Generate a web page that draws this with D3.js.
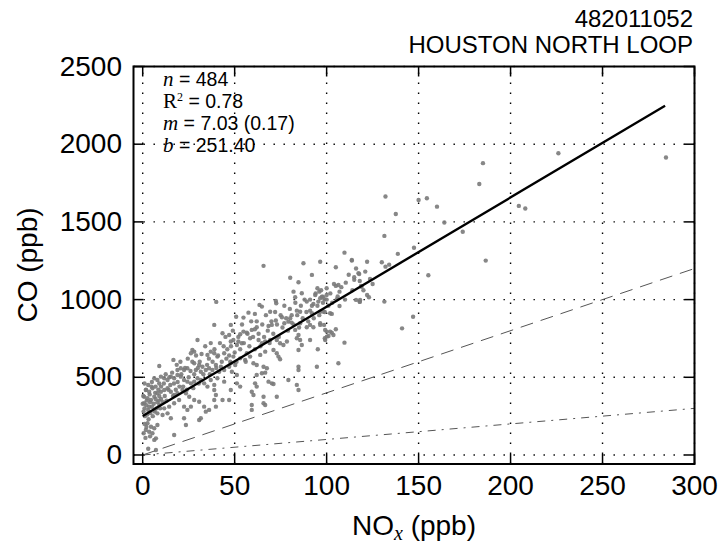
<!DOCTYPE html>
<html>
<head>
<meta charset="utf-8">
<script src="https://cdn.jsdelivr.net/npm/d3@7/dist/d3.min.js"></script>
<style>
  html, body { margin: 0; padding: 0; background: #fff; }
  svg { display: block; }
</style>
</head>
<body>
<svg id="chart" width="720" height="546"></svg>
<script>
// ---------- data ----------
const titleLines = ["482011052", "HOUSTON NORTH LOOP"];
const xTicks = [0, 50, 100, 150, 200, 250, 300];
const yTicks = [0, 500, 1000, 1500, 2000, 2500];
const xDomain = [-5, 300];
const yDomain = [-58, 2500];
const fitSlope = 7.03;
const fitIntercept = 251.40;
const fitRange = [0, 284];
const ratioDashed = 4;     // CO/NOx = 4 reference line
const ratioDashDot = 1;    // CO/NOx = 1 reference line
const statsN = "484", statsR2 = "0.78", statsM = "7.03 (0.17)", statsB = "251.40";

// [NOx, CO] pairs
const scatterPoints = [
 [226,1942],[284.5,1914],[185,1878],[183,1744],[132,1663],[150,1641],[154.5,1652],[160,1598],[137.6,1551],[204.5,1603],[208,1586],[164,1496],[174,1437],[131.4,1410],[147.5,1334],[138.7,1294],[186.5,1251],[155.3,1157],[122,1244],[130,1240],[134,1225],[132,1212],[123.6,1133],[125,1100],[122,1030],[123,1015],[131.4,987],[147,890],[141,815],[118,987],[119,1083],
 [109.7,1302],[96.5,1244],[113.7,1251],[105,1208],[117.7,1165],[115,1144],[115,1127],[110.4,1109],[100,1073],[105,1088],[106.4,1094],[118.7,1088],[107,1051],[116,998],[118,985],[96.5,1009],[98,1019],[100,1030],[105.5,1002],[107,959],[102.8,908],[98.6,837],[105,809],[100,794],[102.8,787],[99,751],[101,766],[109.7,723],[96.5,922],[96.5,848],[113.7,1255],[117.3,1170],[118.2,998],
 [65.7,1217],[87.4,1234],[80.2,1141],[92,1159],[84.7,1112],[95,1073],[96,1051],[82,1051],[86.5,1041],[93.8,1030],[97.4,1019],[98.8,1002],[82.9,1015],[89.2,987],[92.8,972],[95.5,987],[72.4,991],[72.6,976],[63.5,966],[64.8,955],[69.3,922],[57.5,916],[61,908],[50.8,890],[54.8,884],[75.7,886],[80.2,880],[79.2,858],[81,852],[77,848],[85.6,922],[83.8,929],[91,929],[92,912],[98.3,922],[101.9,912],[72.4,865],[68.4,830],[70.2,837],[62,822],[61,809],[59.3,805],[54.8,794],[56.6,787],[53,777],[85.6,848],[91,837],[89.2,822],[92.8,822],[82.9,805],[84.7,772],[83.8,751],[96.5,837],[99.2,805],[101.9,794],[95.2,680],[91,740],[49.3,740],[52,730],[53.9,719],[51.2,708],[58.4,751],[63,740],[64.8,719],[66.6,730],[69.3,740],[72.9,740],[74.7,719],[76.5,708],[78.4,730],[71.1,676],[72.9,655],[66.6,665],[63.9,644],[56.6,655],[58.4,633],[55.7,612],[53,622],[49.3,633],[47.6,601],[50.3,579],[48.5,536],[60.2,590],[62,579],[65.7,568],[67.5,558],[74.7,616],[73.8,633],[84.7,676],[86.5,708],[85.6,740],[84.7,568],[84.7,547],[64.8,526],[66.6,530],[51.2,515],[62,515],[70.2,461],[71.1,457],[68.4,472],[51.2,461],[53,440],[61.1,461],[62,440],[59.3,407],[60.2,386],[65.7,375],[66.6,322],[65.7,333],[59.3,322],[59.3,290],[72.9,375],[83.8,451],[84.7,418],[79.2,483],[94.7,568],[106.4,590],[100.1,762],[99.2,740],[103.7,772],
 [38.9,837],[43.4,783],[47,772],[47.9,837],[29.8,740],[47.9,730],[27,676],[28,665],[26.2,655],[37,665],[38.9,655],[35.2,644],[40.6,633],[44.3,655],[16.7,612],[9,573],[20.7,558],[22.5,547],[18.9,547],[24.3,558],[28,590],[30.7,579],[32.5,568],[28.9,547],[31.6,536],[34.3,547],[36.1,558],[37.9,547],[39.8,579],[42.5,568],[41.6,536],[44.3,547],[47,568],[47.9,590],[6.3,494],[8,483],[9.9,504],[11.7,494],[13.5,483],[15.3,504],[17.1,494],[18.9,515],[20.7,504],[22.5,483],[24.3,472],[26.2,461],[28,472],[29.8,494],[31.6,483],[33.4,461],[37,483],[40.6,494],[44.3,472],[38.9,451],[35.2,440],[1.7,418],[3.5,407],[5.3,429],[0.8,375],[2.6,365],[4.5,354],[6.3,375],[8,397],[9.9,407],[11.7,418],[13.5,429],[15.3,407],[17.1,386],[18.9,397],[21.6,418],[23.5,397],[25.3,375],[0.8,333],[3.5,311],[6.3,290],[9,322],[11.7,300],[14.4,311],[17.1,333],[19.8,354],[22.5,311],[24.3,290],[10.8,257],[8,268],[13.5,268],[15.3,236],[2.6,204],[4.5,182],[6.3,172],[8,193],[3.5,150],[5.3,140],[1.7,161],[7.2,107],[6.3,97],[17.1,129],[7.2,32],[3,40],[28,354],[30.7,343],[26.2,311],[33.4,311],[36.1,290],[34.3,279],[39.8,311],[38.9,354],[43.4,354],[22.5,236],[23.5,193],[30.7,225],[31.6,236],[39.8,386],[38.9,418],[47.9,418],[47,354],[40,985],
 [0.5,280],[1,300],[1.2,250],[2,320],[2.5,260],[3,290],[3.2,230],[4,340],[4.2,270],[5,310],[5.5,250],[6,330],[6.5,280],[7,360],[7.5,300],[8,340],[8.5,420],[9,380],[9.5,300],[10,440],[1,200],[2,180],[0.5,140],[1.5,110],[4,120],[3,450],[5,470],[7,440],[9,460],[10,360],[0,330],[0.3,380],[1.8,420],[3.8,390],[6.8,400],[8.8,350],[2.2,350],[4.8,440],[1,460],[11,340],[12,380],[11.5,460],[12.5,520],[13,350],[14,420],[14.5,500],[15,450],[16,530],[16.5,380],[17,460],[18,420],[18.5,580],[19,470],[20,440],[20.5,600],[21,520],[22,440],[23,560],[24,420],[24.5,620],[25,500],[26,540],[27,600],[27.5,430],[28,520],[29,640],[30,560],[30.5,460],[31,600],[32,650],[33,520],[34,700],[35,580],[36,620],[36.5,520],[37,720],[38,600],[39,680],[40,560],[41,640],[42,720],[43,600],[44,700],[45,760],[45.5,620],[46,680],[47,640],[48,700],[49,800],[50,660],[51,600],[52,760],[53,680],[54,840],[55,720],[56,600],[57,780],[58,700],[59,860],[60,760],[61,680],[62,860],[63,780],[64,700],[65,840],[66,760],[67,900],[68,800],[69,720],[70,860],[71,780],[72,920],[73,840],[74,760],[75,900],[76,820],[77,960],[78,880],[79,800],[80,940],[81,900],[82,840],[83,980],[84,900],[85,820],[86,960],[87,880],[88,1000],[89,920],[90,860],[91,1000],[92,960],[93,880],[94,1040],[95,960],[96,900],[97,1060],[98,980],[99,920],[100,1000],[101,960],[102,1040],[103,980],[104,1100],[106,1020],[108,1080],[110,1000],[112,1160],[114,1060],[116,1200],[118,1120],[120,1060],[121,1180]
];

// ---------- layout ----------
const svg = d3.select("#chart");
const plot = { left: 133.5, right: 694.5, top: 66.5, bottom: 464 };
const x = d3.scaleLinear().domain(xDomain).range([plot.left, plot.right]);
const y = d3.scaleLinear().domain(yDomain).range([plot.bottom, plot.top]);
const sansFont = "'Liberation Sans', Arial, Helvetica, sans-serif";
const serifFont = "'Liberation Serif', 'DejaVu Serif', serif";

svg.append("defs").append("clipPath").attr("id", "clip")
  .append("rect").attr("x", plot.left).attr("y", plot.top)
  .attr("width", plot.right - plot.left).attr("height", plot.bottom - plot.top);

// grid
const grid = svg.append("g").attr("stroke", "#000").attr("stroke-width", 1.4)
  .attr("stroke-dasharray", "1.4,8.6");
grid.selectAll("line.vx").data(xTicks).join("line")
  .attr("x1", d => x(d)).attr("x2", d => x(d))
  .attr("y1", plot.bottom).attr("y2", plot.top);
grid.selectAll("line.hy").data(yTicks).join("line")
  .attr("x1", plot.left).attr("x2", plot.right)
  .attr("y1", d => y(d)).attr("y2", d => y(d));

// scatter
const body = svg.append("g").attr("clip-path", "url(#clip)");
body.append("g").selectAll("circle").data(scatterPoints).join("circle")
  .attr("cx", d => x(d[0])).attr("cy", d => y(d[1])).attr("r", 2.2)
  .attr("fill", "#7a7a7a").attr("fill-opacity", 0.9);

// reference lines
const line = d3.line().x(d => x(d[0])).y(d => y(d[1]));
body.append("path").datum([[0, 0], [300, 300 * ratioDashed]])
  .attr("d", line).attr("fill", "none").attr("stroke", "#555")
  .attr("stroke-width", 1).attr("stroke-dasharray", "13,8");
body.append("path").datum([[0, 0], [300, 300 * ratioDashDot]])
  .attr("d", line).attr("fill", "none").attr("stroke", "#555")
  .attr("stroke-width", 1).attr("stroke-dasharray", "8,6,2,6");
body.append("path").datum(fitRange.map(v => [v, fitSlope * v + fitIntercept]))
  .attr("d", line).attr("fill", "none").attr("stroke", "#000")
  .attr("stroke-width", 2.4);

// axes (ticks inward on all four sides)
const tickLen = 10;
const axG = svg.append("g").attr("stroke", "#000").attr("stroke-width", 1.5);
axG.selectAll("line.bt").data(xTicks).join("line")
  .attr("x1", d => x(d)).attr("x2", d => x(d))
  .attr("y1", plot.bottom).attr("y2", plot.bottom - tickLen);
axG.selectAll("line.tt").data(xTicks).join("line")
  .attr("x1", d => x(d)).attr("x2", d => x(d))
  .attr("y1", plot.top).attr("y2", plot.top + tickLen);
axG.selectAll("line.lt").data(yTicks).join("line")
  .attr("x1", plot.left).attr("x2", plot.left + tickLen)
  .attr("y1", d => y(d)).attr("y2", d => y(d));
axG.selectAll("line.rt").data(yTicks).join("line")
  .attr("x1", plot.right).attr("x2", plot.right - tickLen)
  .attr("y1", d => y(d)).attr("y2", d => y(d));

svg.append("rect").attr("x", plot.left).attr("y", plot.top)
  .attr("width", plot.right - plot.left).attr("height", plot.bottom - plot.top)
  .attr("fill", "none").attr("stroke", "#000").attr("stroke-width", 2);

// tick labels
svg.append("g").selectAll("text").data(xTicks).join("text")
  .attr("x", d => x(d)).attr("y", 495).attr("text-anchor", "middle")
  .attr("font-family", sansFont).attr("font-size", 28).text(d => d);
svg.append("g").selectAll("text").data(yTicks).join("text")
  .attr("x", 122).attr("y", d => y(d) + 9).attr("text-anchor", "end")
  .attr("font-family", sansFont).attr("font-size", 28).text(d => d);

// axis labels
const xl = svg.append("text").attr("x", 414).attr("y", 535).attr("text-anchor", "middle")
  .attr("font-family", sansFont).attr("font-size", 28);
xl.append("tspan").text("NO");
xl.append("tspan").attr("font-family", serifFont).attr("font-style", "italic")
  .attr("font-size", 20).attr("dy", 5).text("x");
xl.append("tspan").attr("dy", -5).text(" (ppb)");

svg.append("text").attr("transform", "translate(37,265) rotate(-90)")
  .attr("text-anchor", "middle").attr("font-family", sansFont).attr("font-size", 28)
  .text("CO (ppb)");

// title
svg.append("g").selectAll("text").data(titleLines).join("text")
  .attr("x", 693).attr("y", (d, i) => 27 + i * 26).attr("text-anchor", "end")
  .attr("font-family", sansFont).attr("font-size", 24).text(d => d);

// stats annotation
const ann = svg.append("g").attr("font-family", sansFont).attr("font-size", 19.5);
const t1 = ann.append("text").attr("x", 163).attr("y", 86);
t1.append("tspan").attr("font-family", serifFont).attr("font-style", "italic").attr("font-size", 21).text("n");
t1.append("tspan").text(" = " + statsN);
const t2 = ann.append("text").attr("x", 163).attr("y", 108);
t2.append("tspan").attr("font-family", serifFont).attr("font-size", 21).text("R");
t2.append("tspan").attr("font-family", serifFont).attr("font-size", 12).attr("dy", -7).text("2");
t2.append("tspan").attr("dy", 7).text(" = " + statsR2);
const t3 = ann.append("text").attr("x", 163).attr("y", 130);
t3.append("tspan").attr("font-family", serifFont).attr("font-style", "italic").attr("font-size", 21).text("m");
t3.append("tspan").text(" = " + statsM);
const t4 = ann.append("text").attr("x", 163).attr("y", 152);
t4.append("tspan").attr("font-family", serifFont).attr("font-style", "italic").attr("font-size", 21).text("b");
t4.append("tspan").text(" = " + statsB);
</script>
</body>
</html>
